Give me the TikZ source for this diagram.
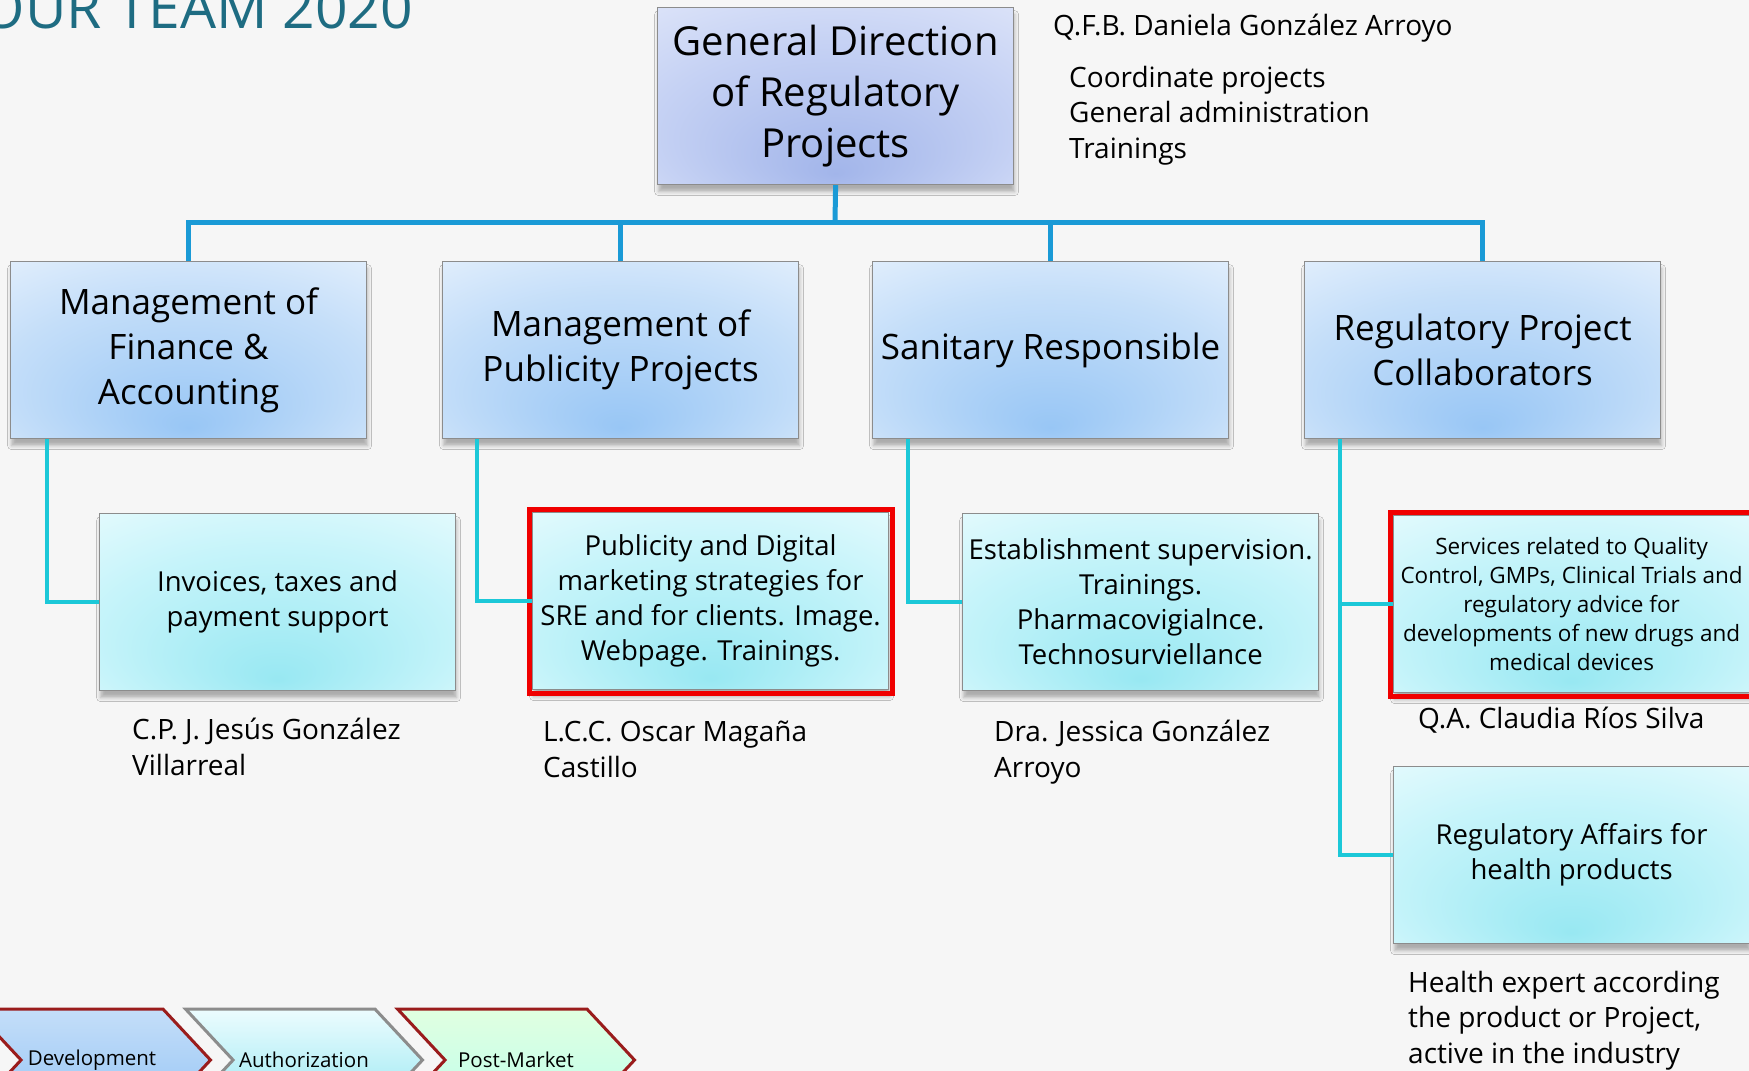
\documentclass[tikz,border=0pt]{standalone}
\usepackage{fontspec}
\setmainfont{Open Sans}
\usetikzlibrary{shadows.blur,fit,shapes.symbols}

\definecolor{bgpaper}{HTML}{F6F6F6}
\definecolor{titleteal}{HTML}{1E6C82}
\definecolor{busblue}{HTML}{1A9AD6}
\definecolor{subcyan}{HTML}{1CC8D8}
\definecolor{boxedge}{HTML}{8C8C8C}
\definecolor{topdeep}{HTML}{A2B5EA}
\definecolor{topmid}{HTML}{C6D2F4}
\definecolor{toppale}{HTML}{E2E8FA}
\definecolor{headdeep}{HTML}{98C6F5}
\definecolor{headmid}{HTML}{C4DEF9}
\definecolor{headpale}{HTML}{EAF3FD}
\definecolor{taskdeep}{HTML}{98E8F2}
\definecolor{taskmid}{HTML}{C6F4FA}
\definecolor{taskpale}{HTML}{ECFCFE}
\definecolor{markred}{HTML}{F00000}
\definecolor{chevred}{HTML}{9A1C1C}

\pgfdeclareradialshading{topglow}{\pgfpoint{0bp}{-22bp}}{color(0bp)=(topdeep); color(26bp)=(topmid); color(44bp)=(toppale); color(50bp)=(toppale)}
\pgfdeclareradialshading{headglow}{\pgfpoint{0bp}{-22bp}}{color(0bp)=(headdeep); color(26bp)=(headmid); color(44bp)=(headpale); color(50bp)=(headpale)}
\pgfdeclareradialshading{taskglow}{\pgfpoint{0bp}{-22bp}}{color(0bp)=(taskdeep); color(26bp)=(taskmid); color(44bp)=(taskpale); color(50bp)=(taskpale)}

\tikzset{
    orgbox/.style={draw=boxedge, line width=1.2pt, inner sep=0pt, minimum width=356, minimum height=177,
        align=center, anchor=north west,
        blur shadow={shadow xshift=1pt, shadow yshift=-7pt, shadow blur radius=4pt, shadow opacity=30}},
    topbox/.style={orgbox, shading=topglow, font=\fontsize{40}{51}\selectfont},
    headbox/.style={orgbox, shading=headglow, font=\fontsize{35}{45}\selectfont},
    taskbox/.style={orgbox, shading=taskglow, font=\fontsize{27.5}{35}\selectfont},
    person/.style={inner sep=0pt, align=left, anchor=base west, font=\fontsize{28}{35.5}\selectfont},
    busline/.style={busblue, line width=5pt},
    subline/.style={subcyan, line width=4.5pt},
    redframe/.style={draw=markred, line width=5pt, inner sep=3pt},
    chevron/.style={shape=signal, signal to=east, signal from=west, signal pointer angle=94,
        minimum width=237, minimum height=102, inner sep=0pt, line width=3pt,
        font=\fontsize{20.5}{24}\selectfont},
}

\begin{document}
\begin{tikzpicture}[x=1pt, y=-1pt]
    \path[use as bounding box] (0,0) rectangle (1749,1071);
    \clip (0,0) rectangle (1749,1071);
    \fill[bgpaper] (0,0) rectangle (1749,1071);

    \node[anchor=base east, inner sep=0pt, text=titleteal, font=\fontsize{57}{60}\selectfont] (title) at (413,28) {OUR TEAM 2020};

    \node[topbox] (gdrp) at (657,7) {General Direction\\of Regulatory\\Projects};

    \node[headbox] (mfa) at (10,261) {Management of\\Finance \&\\Accounting};
    \node[headbox] (mpp) at (442,261) {Management of\\Publicity Projects};
    \node[headbox] (sres) at (872,261) {Sanitary Responsible};
    \node[headbox] (rpc) at (1304,261) {Regulatory Project\\Collaborators};

    \node[taskbox] (inv) at (99,513) {Invoices, taxes and\\payment support};
    \node[taskbox] (pub) at (532,512) {Publicity and Digital\\marketing strategies for\\SRE and for clients. Image.\\Webpage. Trainings.};
    \node[taskbox] (est) at (962,513) {Establishment supervision.\\Trainings.\\Pharmacovigialnce.\\Technosurviellance};
    \node[taskbox, font=\fontsize{22.5}{29}\selectfont] (serv) at (1393,515) {Services related to Quality\\Control, GMPs, Clinical Trials and\\regulatory advice for\\developments of new drugs and\\medical devices};
    \node[taskbox] (raff) at (1393,766) {Regulatory Affairs for\\health products};

    \node[redframe, fit=(pub)] (pubmark) {};
    \node[redframe, fit=(serv)] (servmark) {};

    \coordinate (bus) at (835,222);
    \draw[busline] (gdrp.south) -- (bus);
    \draw[busline] (mfa.north) |- (bus) -| (rpc.north);
    \draw[busline] (mpp.north) -- (mpp.north |- bus);
    \draw[busline] (sres.north) -- (sres.north |- bus);

    \draw[subline] ([xshift=37pt]mfa.south west) |- (inv.west);
    \draw[subline] ([xshift=35pt]mpp.south west) |- (pub.west);
    \draw[subline] ([xshift=36pt]sres.south west) |- (est.west);
    \draw[subline] ([xshift=36pt]rpc.south west) |- (serv.west);
    \draw[subline] ([xshift=36pt]rpc.south west) |- (raff.west);

    \node[person] (daniela) at (1053,35) {Q.F.B. Daniela González Arroyo};
    \node[person] (duties) at (1069,158) {Coordinate projects\\General administration\\Trainings};
    \node[person] (jesus) at (132,775) {C.P. J. Jesús González\\Villarreal};
    \node[person] (oscar) at (543,777) {L.C.C. Oscar Magaña\\Castillo};
    \node[person] (jessica) at (994,777) {Dra. Jessica González\\Arroyo};
    \node[person] (claudia) at (1418,728) {Q.A. Claudia Ríos Silva};
    \node[person] (expert) at (1408,1063) {Health expert according\\the product or Project,\\active in the industry};

    \node[chevron, draw=chevred, top color=headmid, bottom color=headdeep] (dev) at (92,1060) {Development};
    \node[chevron, draw=boxedge, top color=taskpale, bottom color=taskdeep] (auth) at (304,1060) {Authorization};
    \node[chevron, draw=chevred, top color=green!12, bottom color=green!30!cyan!25] (post) at (516,1060) {Post-Market};
\end{tikzpicture}
\end{document}
